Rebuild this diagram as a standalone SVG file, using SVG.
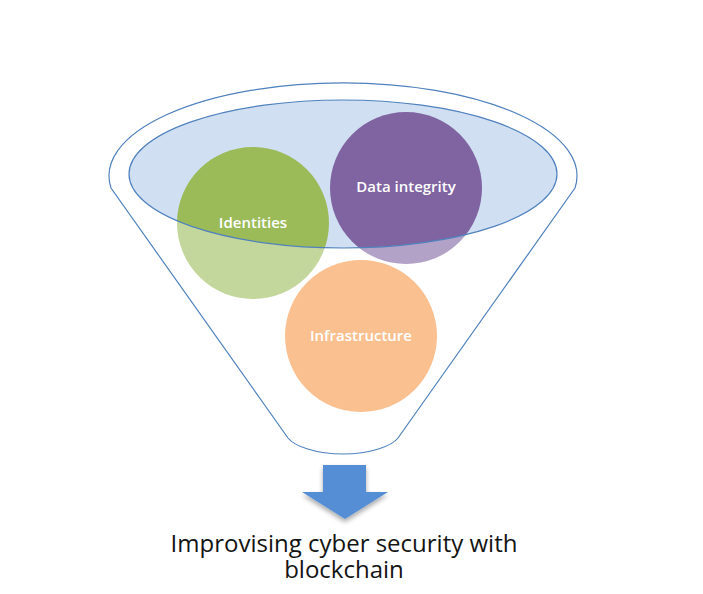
<svg xmlns="http://www.w3.org/2000/svg" width="703" height="594" viewBox="0 0 703 594">
<defs>
<style>
.lbl{font-family:"Open Sans","Liberation Sans",sans-serif;font-size:15px;font-weight:600;fill:#ffffff;text-anchor:middle}
.cap{font-family:"Open Sans","Liberation Sans",sans-serif;font-size:24px;fill:#141414;text-anchor:middle}
.edge{fill:none;stroke:#4F81BD;stroke-width:1.2}
</style>
<filter id="sh" x="-30%" y="-30%" width="160%" height="170%">
<feGaussianBlur in="SourceAlpha" stdDeviation="2.5"/>
<feOffset dy="3" result="b"/>
<feComponentTransfer><feFuncA type="linear" slope="0.35"/></feComponentTransfer>
<feMerge><feMergeNode/><feMergeNode in="SourceGraphic"/></feMerge>
</filter>
</defs>
<rect width="703" height="594" fill="#ffffff"/>
<g id="funnel-fill">
<ellipse cx="343" cy="174" rx="214" ry="74" fill="#D0DFF2"/>
</g>
<g id="identities">
<circle cx="253" cy="223" r="76" fill="#9BBB59"/>
</g>
<g id="data-integrity">
<circle cx="406" cy="188" r="76" fill="#8064A2"/>
</g>
<g id="infrastructure">
<circle cx="361" cy="336" r="76" fill="#F79646"/>
</g>
<g id="funnel">
<path fill="#ffffff" fill-opacity="0.4" fill-rule="evenodd" d="M111,188 A234,93 0 1 1 575,188 L398,438 C392,446 370,454 343,454 C316,454 294,446 288,438 Z M129,174 A214,74 0 1 0 557,174 A214,74 0 1 0 129,174 Z"/>
<path class="edge" d="M111,188 A234,93 0 1 1 575,188 L398,438 C392,446 370,454 343,454 C316,454 294,446 288,438 Z"/>
<ellipse class="edge" cx="343" cy="174" rx="214" ry="74"/>
</g>
<g id="labels">
<text class="lbl" x="253" y="228">Identities</text>
<text class="lbl" x="406" y="192">Data integrity</text>
<text class="lbl" x="361" y="341">Infrastructure</text>
</g>
<g id="connectors">
<path filter="url(#sh)" fill="#558ED5" d="M323,465 L366,465 L366,492 L388,492 L345,519 L302,492 L323,492 Z"/>
</g>
<g id="result">
<text class="cap" x="344" y="552">Improvising cyber security with</text>
<text class="cap" x="344" y="578">blockchain</text>
</g>
</svg>
